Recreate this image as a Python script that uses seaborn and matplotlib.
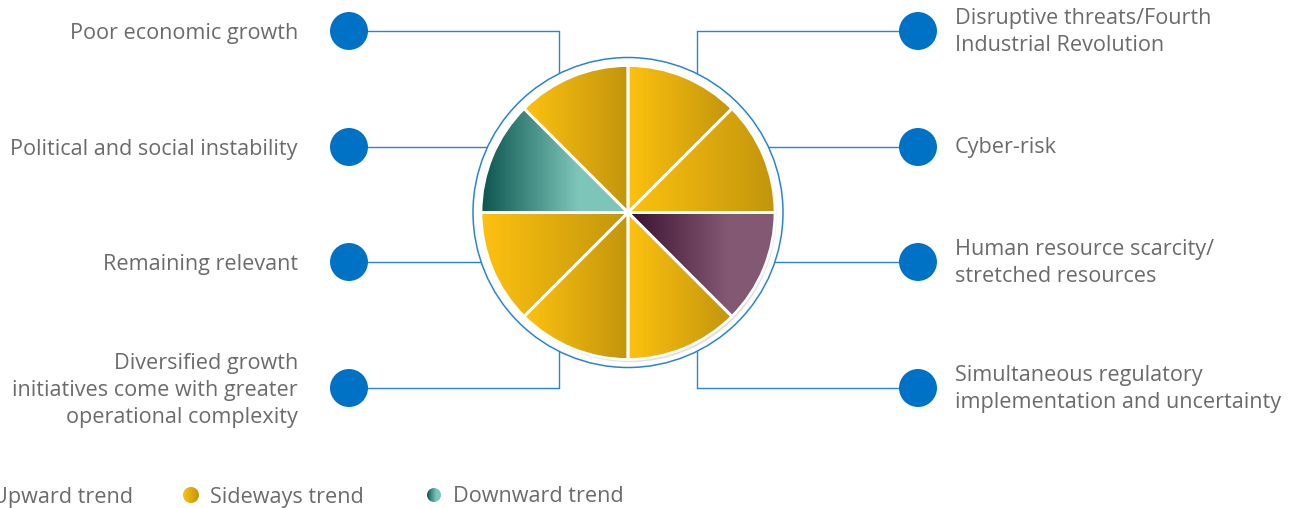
import numpy as np
import pandas as pd
import matplotlib
matplotlib.use("Agg")
import matplotlib.pyplot as plt
import seaborn as sns
from matplotlib.patches import Wedge, Circle
from matplotlib.colors import LinearSegmentedColormap

# ---------------- data ----------------
categories = [
    "Disruptive threats/Fourth\nIndustrial Revolution",
    "Cyber-risk",
    "Human resource scarcity/\nstretched resources",
    "Simultaneous regulatory\nimplementation and uncertainty",
    "Diversified growth\ninitiatives come with greater\noperational complexity",
    "Remaining relevant",
    "Political and social instability",
    "Poor economic growth",
]
trends = ["Sideways", "Sideways", "Upward", "Sideways",
          "Sideways", "Sideways", "Downward", "Sideways"]
weights = [1, 1, 1, 1, 1, 1, 1, 1]
legend_trends = ["Upward", "Sideways", "Downward"]
legend_labels = ["Upward trend", "Sideways trend", "Downward trend"]

# ---------------- style ----------------
sns.set_theme(style="white")
plt.rcParams["font.family"] = ["Open Sans", "DejaVu Sans"]

TEXT = "#6b6b6d"
BLUE_DOT = "#0072C6"
BLUE_LINE = "#2A84D2"
GRADS = {
    "Sideways": [(0.0, "#FDC10F"), (0.12, "#F6BC0F"), (1.0, "#C2950C")],
    "Downward": [(0.0, "#0B554F"), (0.66, "#7DC5B9"), (1.0, "#7DC5B9")],
    "Upward": [(0.0, "#39102F"), (0.68, "#835873"), (1.0, "#835873")],
}
FS = 15.6

W, H = 1298, 508
fig = plt.figure(figsize=(W / 100, H / 100), dpi=100)
ax = fig.add_axes([0, 0, 1, 1])

CX, CY = 628, 212.5
R_PIE = 147
R_RING = 155
ROW_Y = [31, 147, 262, 388]
LX_DOT, RX_DOT = 349, 918
LX_TXT, RX_TXT = 298, 955
V_OFF = 69


def grad_fill(patch, stops, zorder):
    patch.set_facecolor("none")
    patch.set_edgecolor("none")
    ax.add_patch(patch)
    ext = patch.get_path().transformed(patch.get_patch_transform()).get_extents()
    cmap = LinearSegmentedColormap.from_list("g", [(p, c) for p, c in stops])
    grad = np.linspace(0, 1, 256).reshape(1, -1)
    im = ax.imshow(grad, cmap=cmap, extent=(ext.x0, ext.x1, ext.y1, ext.y0),
                   aspect="auto", interpolation="bilinear", zorder=zorder)
    im.set_clip_path(patch)


# ring + shadow
ax.add_patch(Circle((CX, CY), R_RING, facecolor="white", edgecolor=BLUE_LINE,
                    lw=1.1, zorder=2))
for off, col in [(3.2, "#e6e6e6"), (2.2, "#d2d2d2")]:
    ax.add_patch(Circle((CX + off * 0.6, CY + off), R_PIE - 0.5, facecolor=col,
                        edgecolor="none", zorder=2.5))
ax.add_patch(Circle((CX, CY), R_PIE, facecolor="white", edgecolor="none", zorder=2.6))

# pie slices (clockwise from top)
w = np.array(weights, dtype=float)
cum = np.concatenate([[0], np.cumsum(w)]) / w.sum() * 360
for i, tr in enumerate(trends):
    vis_a, vis_b = 90 - cum[i + 1], 90 - cum[i]
    th1, th2 = -vis_b, -vis_a  # y axis is inverted
    wd = Wedge((CX, CY), R_PIE, th1, th2)
    grad_fill(wd, GRADS[tr], zorder=3)
    ax.add_patch(Wedge((CX, CY), R_PIE, th1, th2, facecolor="none",
                       edgecolor="white", lw=2.0, zorder=4))

# connectors, dots, labels
rows = []
for i, cat in enumerate(categories):
    if i < 4:
        side, row = "right", i
    else:
        side, row = "left", 7 - i
    y = ROW_Y[row]
    dx = RX_DOT if side == "right" else LX_DOT
    rows.append({"x": dx, "y": y})
    if row in (0, 3):
        vx = CX + V_OFF if side == "right" else CX - V_OFF
        ax.plot([dx, vx], [y, y], color=BLUE_LINE, lw=1.0, zorder=1)
        ax.plot([vx, vx], [y, CY], color=BLUE_LINE, lw=1.0, zorder=1)
    else:
        ax.plot([dx, CX], [y, y], color=BLUE_LINE, lw=1.0, zorder=1)
    if side == "right":
        ax.text(RX_TXT, y + 0.7, cat, ha="left", va="center", fontsize=FS,
                color=TEXT, linespacing=1.36, zorder=6)
    else:
        ax.text(LX_TXT, y + 2.5, cat, ha="right", va="center", fontsize=FS,
                color=TEXT, linespacing=1.36, zorder=6, multialignment="right")

dots = pd.DataFrame(rows)
sns.scatterplot(data=dots, x="x", y="y", s=748, color=BLUE_DOT, edgecolor="none",
                linewidth=0, legend=False, ax=ax, zorder=5)

# legend
LEG_Y = 495
leg_dot_x = [-27, 191, 434]
leg_dot_r = [8, 8, 7]
for tr, lab, lx, lr in zip(legend_trends, legend_labels, leg_dot_x, leg_dot_r):
    c = Circle((lx, LEG_Y), lr)
    grad_fill(c, GRADS[tr], zorder=5)
    ax.text(lx + 19, LEG_Y + 2, lab, ha="left", va="center", fontsize=FS, color=TEXT)

ax.set_xlim(0, W)
ax.set_ylim(H, 0)
ax.set_axis_off()
fig.savefig("out.png", dpi=100, facecolor="white")
